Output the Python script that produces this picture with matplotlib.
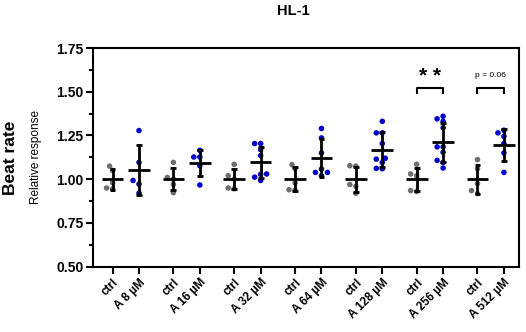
import numpy as np
import matplotlib
matplotlib.use("Agg")
import matplotlib.pyplot as plt
from matplotlib.ticker import MultipleLocator

plt.rcParams['font.family'] = ['Liberation Sans', 'DejaVu Sans']

doses = ["A 8 µM", "A 16 µM", "A 32 µM", "A 64 µM", "A 128 µM", "A 256 µM", "A 512 µM"]
ctrl_vals = [
    [1.075, 1.05, 0.98, 0.95, 0.945],
    [1.096, 1.01, 1.0, 0.97, 0.923],
    [1.085, 1.02, 1.0, 0.95, 0.945],
    [1.083, 1.06, 0.979, 0.94, 0.938],
    [1.077, 1.075, 0.97, 0.959, 0.92],
    [1.085, 1.03, 1.02, 0.935, 0.93],
    [1.112, 1.06, 0.975, 0.935, 0.918],
]
treat_vals = [
    [1.278, 1.096, 0.993, 0.972, 0.921],
    [1.165, 1.127, 1.127, 1.077, 0.967],
    [1.204, 1.204, 1.169, 1.135, 1.03, 1.028, 1.012, 0.993],
    [1.29, 1.236, 1.15, 1.058, 1.039, 1.039, 1.02],
    [1.331, 1.265, 1.265, 1.204, 1.12, 1.115, 1.096, 1.062, 1.06],
    [1.36, 1.345, 1.331, 1.294, 1.185, 1.185, 1.154, 1.108, 1.096, 1.064],
    [1.28, 1.265, 1.245, 1.204, 1.15, 1.039],
]
sig_labels = {5: "* *", 6: "p = 0.06"}

W, H = 526, 332
fig = plt.figure(figsize=(W / 100, H / 100), dpi=100)
ax = fig.add_axes([93 / W, 1 - 266.7 / H, (519 - 93) / W, (266.7 - 48) / H])

GAP = 2.3
XLIM = (-0.74, GAP * 6 + 1 + 0.57)
YLIM = (0.5, 1.75)
ax.set_xlim(*XLIM)
ax.set_ylim(*YLIM)
px_x = (519 - 93) / (XLIM[1] - XLIM[0])
px_y = (266.7 - 48) / (YLIM[1] - YLIM[0])


def swarm(vals, diam=5.0):
    order = np.argsort(vals)
    placed = []
    offs = np.zeros(len(vals))
    cands = [0]
    for k in range(1, 8):
        cands += [-k, k]
    for i in order:
        y = vals[i] * px_y
        for c in cands:
            x = c * diam * 0.6
            if all((x - px) ** 2 + (y - py) ** 2 >= diam ** 2 for px, py in placed):
                placed.append((x, y))
                offs[i] = x / px_x
                break
    return offs


gray = "#6e6e6e"
blue = "#0000cc"
ticks, labels = [], []
for i in range(7):
    for j, (vals, col, lab) in enumerate(((ctrl_vals[i], gray, "ctrl"), (treat_vals[i], blue, doses[i]))):
        xc = GAP * i + j
        v = np.array(vals)
        offs = swarm(v)
        ax.scatter(xc + offs, v, s=16, color=col, edgecolors='none', zorder=2)
        m, sd = v.mean(), v.std(ddof=1)
        ax.plot([xc - 0.41, xc + 0.41], [m, m], color='black', lw=2, zorder=3, solid_capstyle='butt')
        ax.plot([xc, xc], [m - sd, m + sd], color='black', lw=2, zorder=3)
        for e in (m - sd, m + sd):
            ax.plot([xc - 0.11, xc + 0.11], [e, e], color='black', lw=2, zorder=3, solid_capstyle='butt')
        ticks.append(xc)
        labels.append(lab)

for i, txt in sig_labels.items():
    x0, x1 = GAP * i, GAP * i + 1
    ax.plot([x0, x0, x1, x1], [1.494, 1.524, 1.524, 1.494], color='black', lw=1.5, zorder=3)
    if txt.startswith("*"):
        ax.text((x0 + x1) / 2, 1.535, txt, ha='center', va='bottom', fontsize=15, fontweight='bold')
    else:
        ax.text((x0 + x1) / 2, 1.575, txt, ha='center', va='bottom', fontsize=6)

ax.set_xticks(ticks)
ax.set_xticklabels(labels, rotation=45, ha='right', va='top', rotation_mode='anchor',
                   fontsize=8.5, fontweight='bold')
ax.set_yticks([0.5, 0.75, 1.0, 1.25, 1.5, 1.75])
ax.set_yticklabels(["0.50", "0.75", "1.00", "1.25", "1.50", "1.75"], fontsize=10, fontweight='bold')
ax.yaxis.set_minor_locator(MultipleLocator(0.125))
ax.tick_params(axis='both', which='major', direction='out', length=5, width=1.5, pad=2)
ax.tick_params(axis='y', which='minor', direction='out', length=3, width=1.5)
for s in ax.spines.values():
    s.set_linewidth(1.5)

fig.text(36 / W, 1 - 157 / H, "Relative response", rotation=90, ha='center', va='center', fontsize=8.5)
fig.text(11 / W, 1 - 158 / H, "Beat rate", rotation=90, ha='center', va='center', fontsize=12.5, fontweight='bold')
fig.text(293 / W, 1 - 11 / H, "HL-1", ha='center', va='center', fontsize=10.5, fontweight='bold')

fig.savefig("out.png", dpi=100)
